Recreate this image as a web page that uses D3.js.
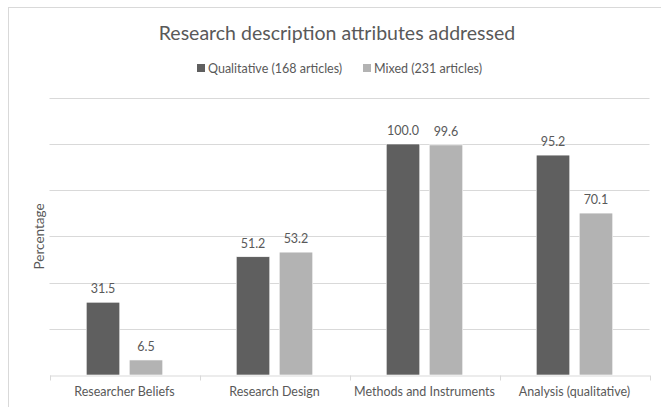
<!DOCTYPE html>
<html>
<head>
<meta charset="utf-8">
<script src="https://cdn.jsdelivr.net/npm/d3@7"></script>
<style>
  html, body { margin: 0; padding: 0; background: #fff; }
  svg { display: block; font-family: Lato, "Open Sans", sans-serif; }
</style>
</head>
<body>
<svg id="chart" width="661" height="407"></svg>
<script>
// Attribute categories and the share of articles addressing each (%)
const categories = ["Researcher Beliefs", "Research Design", "Methods and Instruments", "Analysis (qualitative)"];
const seriesNames = ["Qualitative (168 articles)", "Mixed (231 articles)"];
const qualitative = [31.5, 51.2, 100.0, 95.2];
const mixed = [6.5, 53.2, 99.6, 70.1];
const yTicks = [0, 20, 40, 60, 80, 100, 120];

const colors = ["#5f5f5f", "#b3b3b3"];
const textColor = "#595959";
const gridColor = "#d9d9d9";

const rows = categories.map((c, i) => ({ category: c, values: [qualitative[i], mixed[i]] }));

const svg = d3.select("#chart");
const margin = { left: 49.5, right: 11.5, top: 97.8, bottom: 32 };
const W = 661, H = 407;

// Chart frame
svg.append("rect")
  .attr("x", 8.5).attr("y", 7.5)
  .attr("width", 700).attr("height", 450)
  .attr("fill", "#fff").attr("stroke", gridColor).attr("stroke-width", 1);

const x0 = d3.scaleBand()
  .domain(categories)
  .range([margin.left, W - margin.right])
  .paddingInner(0).paddingOuter(0);

const x1 = d3.scaleBand()
  .domain(d3.range(seriesNames.length))
  .range([x0.bandwidth() * 0.245, x0.bandwidth() * 0.755])
  .paddingInner(0.22).paddingOuter(0);

const y = d3.scaleLinear()
  .domain([0, 120])
  .range([375, margin.top]);

// Horizontal gridlines
svg.append("g")
  .selectAll("line")
  .data(yTicks.filter(t => t > 0))
  .join("line")
  .attr("x1", margin.left).attr("x2", W - margin.right)
  .attr("y1", d => Math.round(y(d)) + 0.5).attr("y2", d => Math.round(y(d)) + 0.5)
  .attr("stroke", gridColor).attr("stroke-width", 1);

// Bars
const groups = svg.append("g")
  .selectAll("g")
  .data(rows)
  .join("g")
  .attr("transform", d => `translate(${x0(d.category)},0)`);

groups.selectAll("rect")
  .data(d => d.values.map((v, i) => ({ v, i })))
  .join("rect")
  .attr("x", d => x1(d.i))
  .attr("width", x1.bandwidth())
  .attr("y", d => y(d.v))
  .attr("height", d => y(0) - y(d.v))
  .attr("fill", d => colors[d.i])
  .attr("stroke", "#ffffff").attr("stroke-width", 0.6);

// Value labels
groups.selectAll("text")
  .data(d => d.values.map((v, i) => ({ v, i })))
  .join("text")
  .attr("x", d => x1(d.i) + x1.bandwidth() / 2)
  .attr("y", d => y(d.v) - 9)
  .attr("text-anchor", "middle")
  .attr("fill", textColor)
  .attr("font-size", 12.5)
  .text(d => d3.format(".1f")(d.v));

// Category axis
const xAxis = svg.append("g")
  .attr("transform", `translate(0,${Math.round(y(0)) + 0.5})`)
  .call(d3.axisBottom(x0).tickSize(0).tickPadding(12));
xAxis.select(".domain").attr("stroke", gridColor);
xAxis.selectAll(".tick text")
  .attr("fill", textColor)
  .attr("font-size", 12.5)
  .attr("font-family", "Lato, 'Open Sans', sans-serif");

// Tick marks on category boundaries
const boundaries = categories.map(c => x0(c)).concat([x0.range()[1]]);
xAxis.selectAll(".boundary")
  .data(boundaries)
  .join("line")
  .attr("class", "boundary")
  .attr("x1", d => Math.round(d) + 0.5).attr("x2", d => Math.round(d) + 0.5)
  .attr("y1", 0).attr("y2", 5)
  .attr("stroke", gridColor);

// Y axis title
svg.append("text")
  .attr("transform", `translate(44,${(y(0) + y(120)) / 2}) rotate(-90)`)
  .attr("text-anchor", "middle")
  .attr("fill", textColor)
  .attr("font-size", 13.5)
  .text("Percentage");

// Chart title
svg.append("text")
  .attr("x", 337).attr("y", 40)
  .attr("text-anchor", "middle")
  .attr("fill", textColor)
  .attr("font-size", 19.5)
  .text("Research description attributes addressed");

// Legend
const legendX = [197, 363];
const legend = svg.append("g")
  .selectAll("g")
  .data(seriesNames)
  .join("g")
  .attr("transform", (d, i) => `translate(${legendX[i]},64)`);
legend.append("rect")
  .attr("width", 8).attr("height", 8)
  .attr("fill", (d, i) => colors[i]);
legend.append("text")
  .attr("x", 11).attr("y", 8.5)
  .attr("fill", textColor)
  .attr("font-size", 12.5)
  .text(d => d);
</script>
</body>
</html>
